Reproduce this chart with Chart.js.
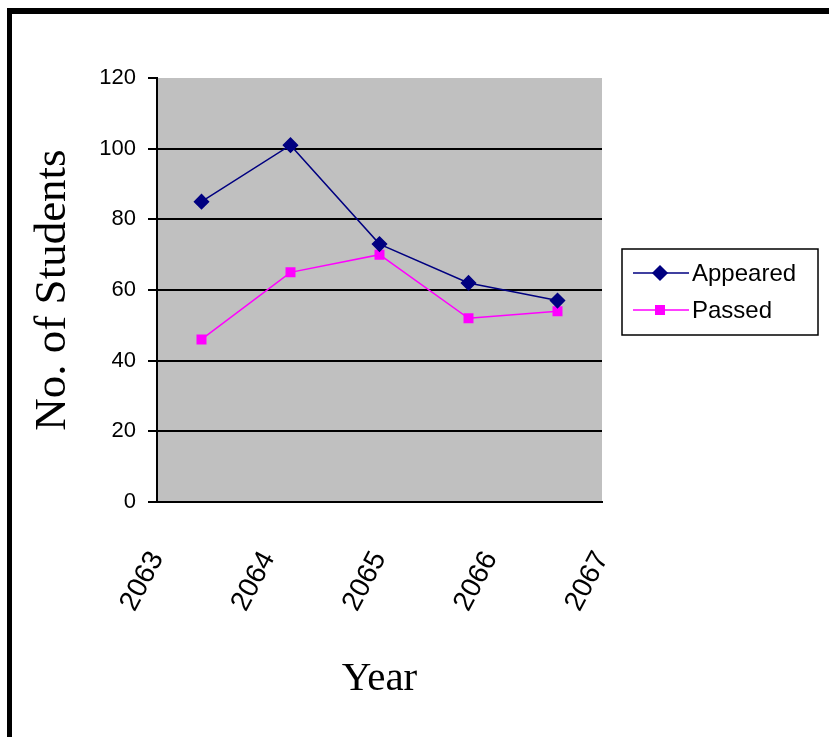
<!DOCTYPE html>
<html>
<head>
<meta charset="utf-8">
<script src="https://cdn.jsdelivr.net/npm/chart.js@4"></script>
<style>
  html, body { margin: 0; padding: 0; background: #fff; overflow: hidden; }
  #frame { position: absolute; left: 7px; top: 8px; width: 900px; height: 727px;
           border-left: 5px solid #000; border-top: 6px solid #000; border-bottom: 1px solid #999; }
  #wrap { position: absolute; left: 0; top: 0; width: 829px; height: 737px; }
</style>
</head>
<body>
<div id="frame"></div>
<div id="wrap"><canvas id="studentChart" width="829" height="737"></canvas></div>
<script>
// data
const years = ["2063", "2064", "2065", "2066", "2067"];
const appeared = [85, 101, 73, 62, 57];
const passed = [46, 65, 70, 52, 54];
const yTicks = [0, 20, 40, 60, 80, 100, 120];

const sans = "'Liberation Sans', Arial, sans-serif";
const serif = "'Liberation Serif', 'Times New Roman', serif";

// gray plot area
const plotBg = {
    id: "plotBg",
    beforeDraw(chart) {
        const a = chart.chartArea, ctx = chart.ctx;
        ctx.save();
        ctx.fillStyle = "#c0c0c0";
        ctx.fillRect(a.left, a.top, a.right - a.left, a.bottom - a.top);
        ctx.restore();
    }
};

// legend with a box, line + marker like the old spreadsheet style
const boxLegend = {
    id: "boxLegend",
    afterDraw(chart) {
        const ctx = chart.ctx;
        const a = chart.chartArea;
        const x0 = a.right + 20, y0 = 249, w = 196, h = 86;
        ctx.save();
        ctx.strokeStyle = "#000";
        ctx.lineWidth = 1.5;
        ctx.strokeRect(x0, y0, w, h);
        ctx.font = "24px " + sans;
        ctx.textBaseline = "middle";
        chart.data.datasets.forEach((ds, i) => {
            const y = y0 + 24 + i * 37;
            ctx.strokeStyle = ds.borderColor;
            ctx.lineWidth = 1.5;
            ctx.beginPath();
            ctx.moveTo(x0 + 11, y);
            ctx.lineTo(x0 + 67, y);
            ctx.stroke();
            Chart.helpers.drawPoint(ctx, {
                pointStyle: ds.pointStyle,
                radius: ds.pointRadius,
                borderWidth: 1
            }, x0 + 38, y);
            ctx.fillStyle = ds.pointBackgroundColor;
            ctx.strokeStyle = ds.pointBorderColor;
            ctx.fill();
            ctx.fillStyle = "#000";
            ctx.fillText(ds.label, x0 + 70, y + 1);
        });
        ctx.restore();
    }
};

const ctx = document.getElementById("studentChart").getContext("2d");
new Chart(ctx, {
    type: "line",
    data: {
        labels: years,
        datasets: [{
            label: "Appeared",
            data: appeared,
            borderColor: "#000080",
            borderWidth: 1.5,
            pointStyle: "rectRot",
            pointRadius: 7,
            pointBackgroundColor: "#000080",
            pointBorderColor: "#000080",
            tension: 0
        }, {
            label: "Passed",
            data: passed,
            borderColor: "#ff00ff",
            borderWidth: 1.5,
            pointStyle: "rect",
            pointRadius: 6,
            pointBackgroundColor: "#ff00ff",
            pointBorderColor: "#ff00ff",
            tension: 0
        }]
    },
    options: {
        responsive: false,
        animation: false,
        layout: { padding: { left: 24, top: 78, right: 227, bottom: 29 } },
        plugins: {
            legend: { display: false },
            tooltip: { enabled: false }
        },
        scales: {
            // axis the points sit on
            x: {
                offset: true,
                weight: 0,
                grid: { display: false },
                border: { display: true, color: "#000", width: 2 },
                ticks: { display: false },
                afterFit(scale) { scale.height = 0; }
            },
            // label axis, spread edge to edge as in the original
            xLabels: {
                type: "category",
                position: "bottom",
                labels: years,
                offset: false,
                weight: 1,
                grid: { display: false },
                border: { display: false },
                ticks: {
                    color: "#000",
                    font: { family: sans, size: 28 },
                    minRotation: 62,
                    maxRotation: 62,
                    padding: 36,
                    autoSkip: false
                },
                title: {
                    display: true,
                    text: "Year",
                    color: "#000",
                    font: { family: serif, size: 41 },
                    padding: { top: 4, bottom: 4 }
                },
                afterFit(scale) { scale.height = 206; }
            },
            y: {
                min: 0,
                max: 120,
                afterBuildTicks(scale) { scale.ticks = yTicks.map(v => ({ value: v })); },
                grid: {
                    color: c => (c.tick && c.tick.value === 120 ? "rgba(0,0,0,0)" : "#000"),
                    tickColor: "#000",
                    lineWidth: 2,
                    tickLength: 9
                },
                border: { display: true, color: "#000", width: 2 },
                ticks: {
                    color: "#000",
                    font: { family: sans, size: 22 },
                    padding: 12
                },
                title: {
                    display: true,
                    text: "No. of Students",
                    color: "#000",
                    font: { family: serif, size: 45 },
                    padding: { top: 2, bottom: 4 }
                },
                afterFit(scale) { scale.width = 133; }
            }
        }
    },
    plugins: [plotBg, boxLegend]
});
</script>
</body>
</html>
